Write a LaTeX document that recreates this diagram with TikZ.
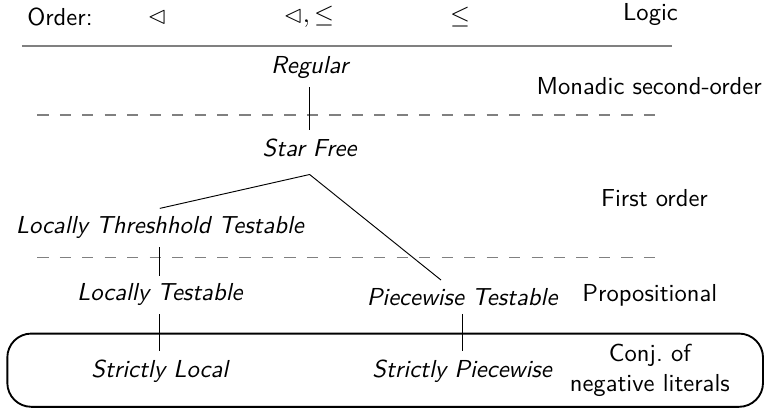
\documentclass[tikz,border=0pt]{standalone}
\usepackage{amsmath,amssymb}
\usetikzlibrary{positioning}

\begin{document}
\begin{tikzpicture}[font=\sffamily\fontsize{10.5pt}{13pt}\selectfont,
  cls/.style={font=\sffamily\itshape\fontsize{10.5pt}{13pt}\selectfont},
  sepline/.style={gray, semithick, dash pattern=on 4.8pt off 4.8pt}]
  \useasboundingbox (0,0) rectangle (11.58,6.14);
  % header row
  \node (order) at (0.90,5.88) {Order:};
  \node (succ) at (2.36,5.88) {$\lhd$};
  \node (both) at (4.64,5.88) {$\lhd,\leq$};
  \node (prec) at (6.91,5.88) {$\leq$};
  \node (logic) at (9.77,5.92) {Logic};
  \draw[gray, thick] (0.33,5.45) -- (10.10,5.45);
  % language classes
  \node[cls] (reg) at (4.65,5.12) {Regular};
  \node[cls] (sf) at (4.65,3.92) {Star Free};
  \node[cls] (ltt) at (2.40,2.72) {Locally Threshhold Testable};
  \node[cls] (lt) at (2.40,1.71) {Locally Testable};
  \node[cls] (pt) at (6.94,1.68) {Piecewise Testable};
  \node[cls] (sl) at (2.40,0.57) {Strictly Local};
  \node[cls] (sp) at (6.94,0.57) {Strictly Piecewise};
  % logics
  \node (mso) at (9.75,4.85) {Monadic second-order};
  \node (fo) at (9.83,3.17) {First order};
  \node (prop) at (9.76,1.71) {Propositional};
  \node[align=center] (neg) at (9.76,0.58) {Conj.\ of\\negative literals};
  \draw[sepline] (0.56,4.41) -- (9.86,4.41);
  \draw[sepline] (0.56,2.27) -- (9.86,2.27);
  \draw[thick, rounded corners=0.36cm] (0.11,0.03) rectangle (11.46,1.13);
  % inclusions
  \coordinate (sfbot) at ([yshift=-4pt]sf.south);
  \draw (reg) -- (sf);
  \draw (ltt.north) -- (sfbot) -- (pt);
  \draw (ltt) -- (lt);
  \draw (lt) -- (sl);
  \draw (pt) -- (sp);
\end{tikzpicture}
\end{document}
